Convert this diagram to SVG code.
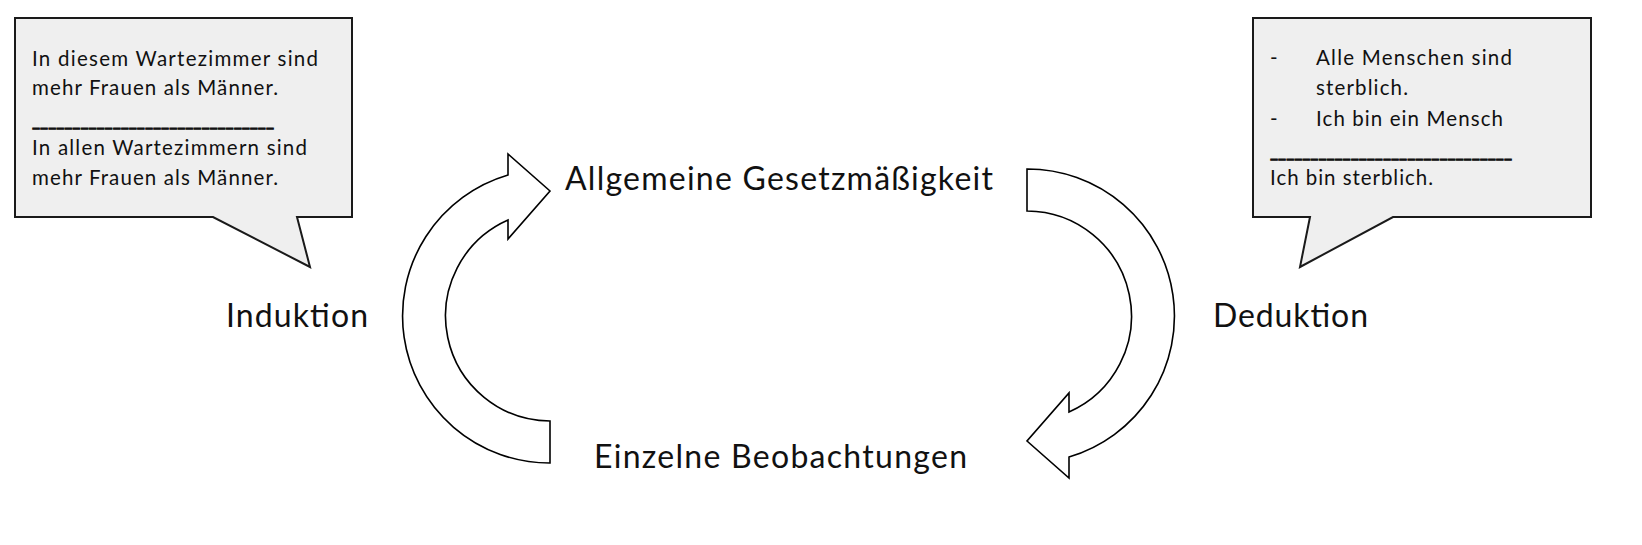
<svg xmlns="http://www.w3.org/2000/svg" width="1642" height="545" viewBox="0 0 1642 545">
<style>
.bg{fill:#ffffff}
.callout{fill:#efefef;stroke:#1a1a1a;stroke-width:2;stroke-linejoin:miter}
.arrow{fill:#ffffff;stroke:#000000;stroke-width:1.6;stroke-linejoin:miter}
.ct{font-family:Lato,"Liberation Sans",sans-serif;font-size:20.5px;fill:#111111}
.us{stroke:#111111;stroke-width:0.9}
.lbl{font-family:Lato,"Liberation Sans",sans-serif;font-size:32px;fill:#111111}
</style>
<defs>
<path id="circArrow" d="M550,463 A147,147 0 0 1 508,175 L508,154 L550,191 L508,239 L508,220 A105,105 0 0 0 550,421 Z"/>
</defs>
<rect class="bg" x="0" y="0" width="1642" height="545"/>
<g id="connectors">
<use href="#circArrow" class="arrow" id="arrow-induktion"/>
<use href="#circArrow" class="arrow" id="arrow-deduktion" transform="rotate(180 788.5 316)"/>
</g>
<g id="callout-induktion">
<path class="callout" d="M15,18 H352 V217 H297 L310,267 L213,217 H15 Z"/>
<text class="ct" x="32" y="66" textLength="286">In diesem Wartezimmer sind</text>
<text class="ct" x="32" y="95" textLength="246">mehr Frauen als Männer.</text>
<text class="ct us" x="32" y="126" textLength="242" lengthAdjust="spacingAndGlyphs">______________________________</text>
<text class="ct" x="32" y="155" textLength="275">In allen Wartezimmern sind</text>
<text class="ct" x="32" y="185" textLength="246">mehr Frauen als Männer.</text>
</g>
<g id="callout-deduktion">
<path class="callout" d="M1253,18 H1591 V217 H1393 L1300,267 L1310,217 H1253 Z"/>
<text class="ct" x="1270" y="65">-</text>
<text class="ct" x="1316" y="65" textLength="196">Alle Menschen sind</text>
<text class="ct" x="1316" y="95" textLength="92">sterblich.</text>
<text class="ct" x="1270" y="126">-</text>
<text class="ct" x="1316" y="126" textLength="187">Ich bin ein Mensch</text>
<text class="ct us" x="1270" y="157" textLength="242" lengthAdjust="spacingAndGlyphs">______________________________</text>
<text class="ct" x="1270" y="185" textLength="163">Ich bin sterblich.</text>
</g>
<g id="node-allgemein">
<text class="lbl" x="565" y="190" textLength="428">Allgemeine Gesetzmäßigkeit</text>
</g>
<g id="node-einzeln">
<text class="lbl" x="594" y="468" textLength="373">Einzelne Beobachtungen</text>
</g>
<g id="node-induktion">
<text class="lbl" x="226" y="327" textLength="142">Induktion</text>
</g>
<g id="node-deduktion">
<text class="lbl" x="1213" y="327" textLength="155">Deduktion</text>
</g>
</svg>
